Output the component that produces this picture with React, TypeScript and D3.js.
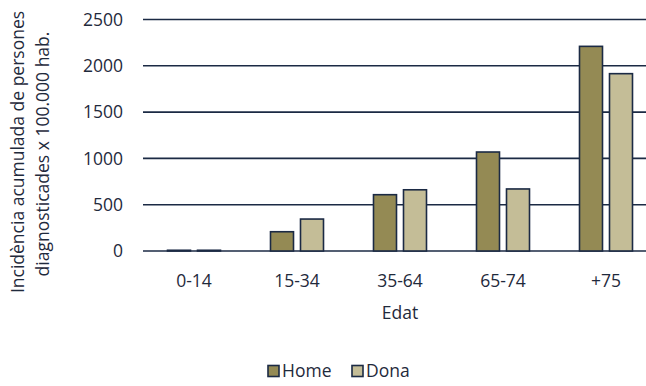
import React from "react";
import * as d3 from "d3";

const categories = ["0-14", "15-34", "35-64", "65-74", "+75"];
const home = [8, 208, 608, 1069, 2210];
const dona = [8, 345, 661, 670, 1915];
const yTicks = [0, 500, 1000, 1500, 2000, 2500];
const seriesNames = ["Home", "Dona"];
const colors = ["#948a54", "#c4bd97"];

export default function App() {
  const W = 646, H = 386;
  const x = d3.scaleBand<string>().domain(categories).range([142.5, 657.5]).paddingInner(0).paddingOuter(0);
  const y = d3.scaleLinear().domain([0, 2500]).range([251, 19.5]);
  const barW = 23;
  const gap = 7;
  const text = "#1f2a3c";
  const stroke = "#1b2a44";
  const font = "'Open Sans', sans-serif";
  const fs = 17.5;
  return (
    <svg width={W} height={H} style={{ position: "absolute", left: 0, top: 0, background: "#fff" }} fontFamily={font}>
      {yTicks.map((t) => (
        <g key={t}>
          <line x1={143} x2={W} y1={y(t)} y2={y(t)} stroke={stroke} strokeWidth={1.6} />
          <text x={123} y={y(t)} dy="0.35em" textAnchor="end" fontSize={fs} fill={text}>{t}</text>
        </g>
      ))}
      {categories.map((c, i) => {
        const cx = x(c)! + x.bandwidth() / 2;
        return (
          <g key={c}>
            {[home[i], dona[i]].map((v, j) => (
              <rect key={j} x={j === 0 ? cx - gap / 2 - barW : cx + gap / 2} y={y(v)} width={barW} height={y(0) - y(v)}
                fill={colors[j]} stroke={stroke} strokeWidth={1.6} />
            ))}
            <text x={cx} y={281} dy="0.35em" textAnchor="middle" fontSize={fs} fill={text}>{c}</text>
          </g>
        );
      })}
      <text x={400} y={313} dy="0.35em" textAnchor="middle" fontSize={fs} fill={text}>Edat</text>
      <g transform="translate(18,152) rotate(-90)">
        <text x={0} y={0} dy="0.35em" textAnchor="middle" fontSize={fs} fill={text}>Incidència acumulada de persones</text>
        <text x={-2} y={25} dy="0.35em" textAnchor="middle" fontSize={fs} fill={text}>diagnosticades x 100.000 hab.</text>
      </g>
      {seriesNames.map((s, i) => {
        const lx = i === 0 ? 268 : 352;
        return (
          <g key={s}>
            <rect x={lx} y={365.5} width={11} height={11} fill={colors[i]} stroke={stroke} strokeWidth={1.6} />
            <text x={lx + 14} y={371} dy="0.35em" fontSize={fs} fill={text}>{s}</text>
          </g>
        );
      })}
    </svg>
  );
}
